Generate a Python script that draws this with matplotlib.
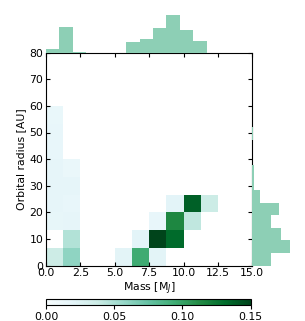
import numpy as np
import matplotlib
matplotlib.use('Agg')
import matplotlib.pyplot as plt

plt.rcParams['font.size'] = 7.8

# 2D histogram (rows = radius bins, cols = mass bins)
mass_edges = np.linspace(0, 15, 13)
radius_edges = np.linspace(0, 80, 13)
density = [
    [0.037, 0.060, 0, 0, 0.021, 0.095, 0.021, 0, 0, 0, 0, 0],
    [0, 0.047, 0, 0, 0, 0.020, 0.150, 0.132, 0, 0, 0, 0],
    [0.017, 0.018, 0, 0, 0, 0, 0.016, 0.115, 0.042, 0, 0, 0],
    [0.018, 0.016, 0, 0, 0, 0, 0, 0.020, 0.137, 0.038, 0, 0],
    [0.018, 0.018, 0, 0, 0, 0, 0, 0, 0, 0, 0, 0],
    [0.018, 0.014, 0, 0, 0, 0, 0, 0, 0, 0, 0, 0],
    [0.016, 0, 0, 0, 0, 0, 0, 0, 0, 0, 0, 0],
    [0.016, 0, 0, 0, 0, 0, 0, 0, 0, 0, 0, 0],
    [0.015, 0, 0, 0, 0, 0, 0, 0, 0, 0, 0, 0],
    [0, 0, 0, 0, 0, 0, 0, 0, 0, 0, 0, 0],
    [0, 0, 0, 0, 0, 0, 0, 0, 0, 0, 0, 0],
    [0, 0, 0, 0, 0, 0, 0, 0, 0, 0, 0, 0],
]

# marginal histograms
mass_hist_edges = np.linspace(0, 11.67, 13)
mass_counts = [3, 19, 0.8, 0, 0, 0, 8, 10, 18, 28, 16.5, 9]
radius_hist_edges = np.linspace(0, 52.1, 12)
radius_counts = [14, 28, 21, 14, 19.5, 5.5, 1.5, 1, 0, 0, 0.8]

hist_color = '#8dcfb5'

fig = plt.figure(figsize=(3.05, 3.21), dpi=100)
W, H = 305, 321

ax = fig.add_axes([46 / W, 1 - 265.5 / H, 206.3 / W, 212.8 / H])
ax_top = fig.add_axes([46 / W, 1 - 52.7 / H, 206.3 / W, 39.6 / H])
ax_right = fig.add_axes([252.3 / W, 1 - 265.5 / H, 39.6 / W, 212.8 / H])
cax = fig.add_axes([46 / W, 1 - 305.3 / H, 204.7 / W, 6.3 / H])

cmap = plt.get_cmap('BuGn').copy()
cmap.set_bad('white')
Z = np.ma.masked_equal(np.array(density), 0)
mesh = ax.pcolormesh(mass_edges, radius_edges, Z, cmap=cmap, vmin=0, vmax=0.15)
ax.set_xlim(0, 15)
ax.set_ylim(0, 80)
ax.set_xticks(np.arange(0, 15.1, 2.5))
ax.set_yticks(np.arange(0, 81, 10))
ax.tick_params(direction='in', top=True, right=True, length=3, pad=2)
ax.set_xlabel('Mass [M$_J$]', labelpad=2)
ax.set_ylabel('Orbital radius [AU]', labelpad=2)

ax_top.bar(mass_hist_edges[:-1], mass_counts, width=np.diff(mass_hist_edges),
           align='edge', color=hist_color)
ax_top.set_xlim(0, 15)
ax_top.set_ylim(0, max(mass_counts) * 1.05)
ax_top.axis('off')

ax_right.barh(radius_hist_edges[:-1], radius_counts, height=np.diff(radius_hist_edges),
              align='edge', color=hist_color)
ax_right.set_ylim(0, 80)
ax_right.set_xlim(0, max(mass_counts) * 1.05)
ax_right.axis('off')

cb = fig.colorbar(mesh, cax=cax, orientation='horizontal')
cb.set_ticks([0.0, 0.05, 0.10, 0.15])
cb.ax.xaxis.set_major_formatter(matplotlib.ticker.FormatStrFormatter('%.2f'))
cb.ax.tick_params(length=3, pad=2)

fig.savefig('out.png', dpi=100)
